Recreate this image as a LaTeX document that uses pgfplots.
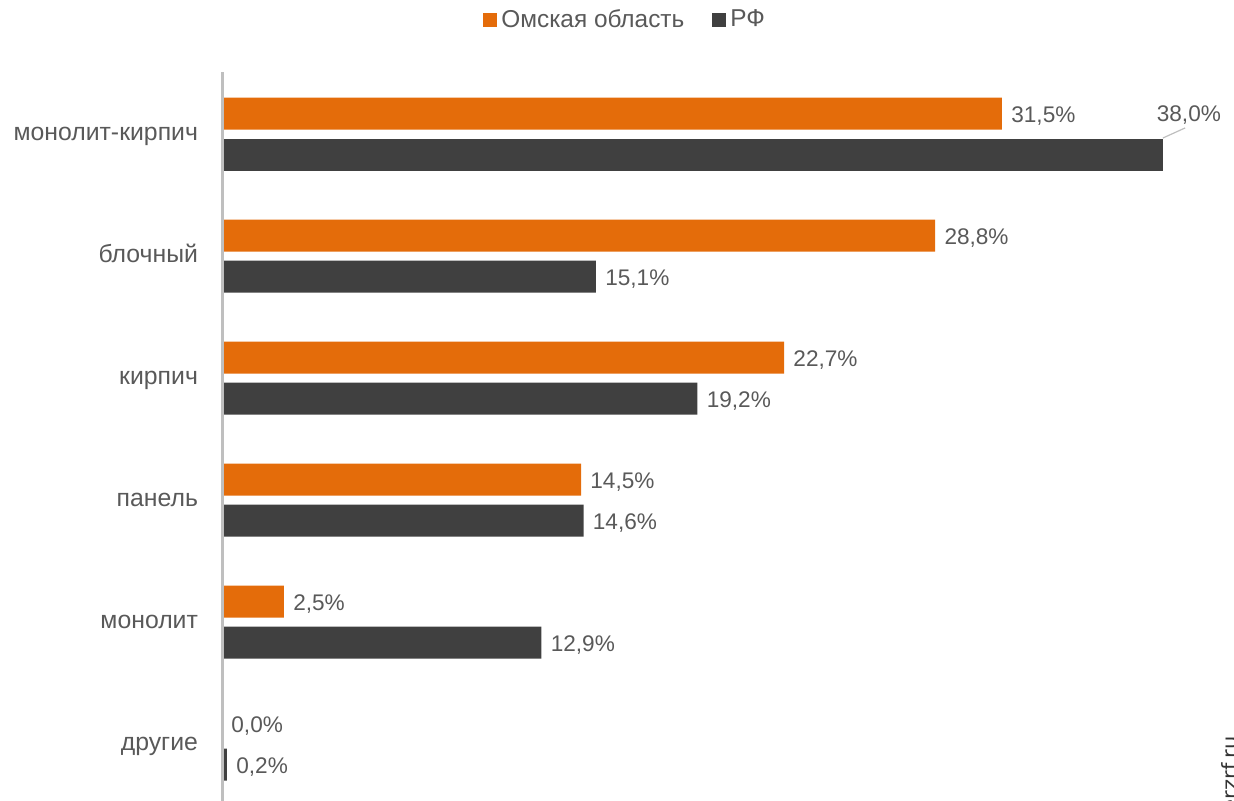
\documentclass[border=0pt]{standalone}
\usepackage{fontspec}
\setmainfont{Liberation Sans}
\newfontfamily\wmfont{DejaVu Sans}
\usepackage{pgfplots}
\pgfplotsset{compat=1.18}
\definecolor{omsk}{HTML}{E46C0A}
\definecolor{rf}{HTML}{404040}
\definecolor{txt}{HTML}{595959}
\definecolor{axl}{HTML}{BFBFBF}
\begin{document}
\begin{tikzpicture}
\useasboundingbox (0,0) rectangle (617pt,400pt);
\begin{axis}[
  scale only axis,
  width=495.2pt, height=372.7pt,
  at={(111pt,-8.6pt)}, anchor=south west,
  xmin=0, xmax=40, ymin=-0.6, ymax=5.51,
  hide x axis,
  axis y line=left,
  axis on top,
  y axis line style={draw=axl, line width=1.5pt, -},
  ytick={0,1,2,3,4,5},
  yticklabels={другие,монолит,панель,кирпич,блочный,монолит-кирпич},
  major tick length=0pt,
  yticklabel style={text=txt, font=\fontsize{12.4}{14}\selectfont, anchor=base east, xshift=-8.5pt, yshift=-3.3pt},
  xbar, bar width=16pt,
  clip=false,
  /pgf/number format/assume math mode=true,
  nodes near coords={\pgfmathprintnumber[fixed,fixed zerofill,precision=1,use comma]{\pgfplotspointmeta}\%},
  nodes near coords style={text=txt, font=\fontsize{11.3}{13}\selectfont, anchor=base west, inner sep=0pt, xshift=4.5pt, yshift=-4.6pt},
  legend style={draw=none, fill=none, at={(0.408,1.0695)}, anchor=center, legend columns=-1,
    font=\fontsize{12.2}{14}\selectfont, text=txt,
    /tikz/every even column/.append style={column sep=12pt}},
  legend image code/.code={\fill[#1] (0pt,-3.5pt) rectangle (7pt,3.5pt);},
]
\addplot[fill=omsk, draw=none, bar shift=10.25pt] coordinates {
  (31.5,5) (28.8,4) (22.7,3) (14.5,2) (2.5,1) (0.0,0)};
\addlegendentry{Омская область}
\addplot[fill=rf, draw=none, bar shift=-10.25pt] coordinates {
  (15.1,4) (19.2,3) (14.6,2) (12.9,1) (0.2,0)};
\addlegendentry{РФ}
\addplot[fill=rf, draw=none, bar shift=-10.25pt, nodes near coords={}, forget plot] coordinates {(38.0,5)};
\draw[axl, line width=0.6pt] (axis cs:38,4.967) -- (axis cs:38.9,5.05);
\node[anchor=base west, inner sep=0pt, text=txt, font=\fontsize{11.3}{13}\selectfont] at (axis cs:37.74,5.10) {38,0\%};
\end{axis}
\node[rotate=90, anchor=base east, inner sep=0pt, text=black!80, font=\wmfont\fontsize{10.5}{12}\selectfont] at (618.5pt,32pt) {erzrf.ru};
\end{tikzpicture}
\end{document}
